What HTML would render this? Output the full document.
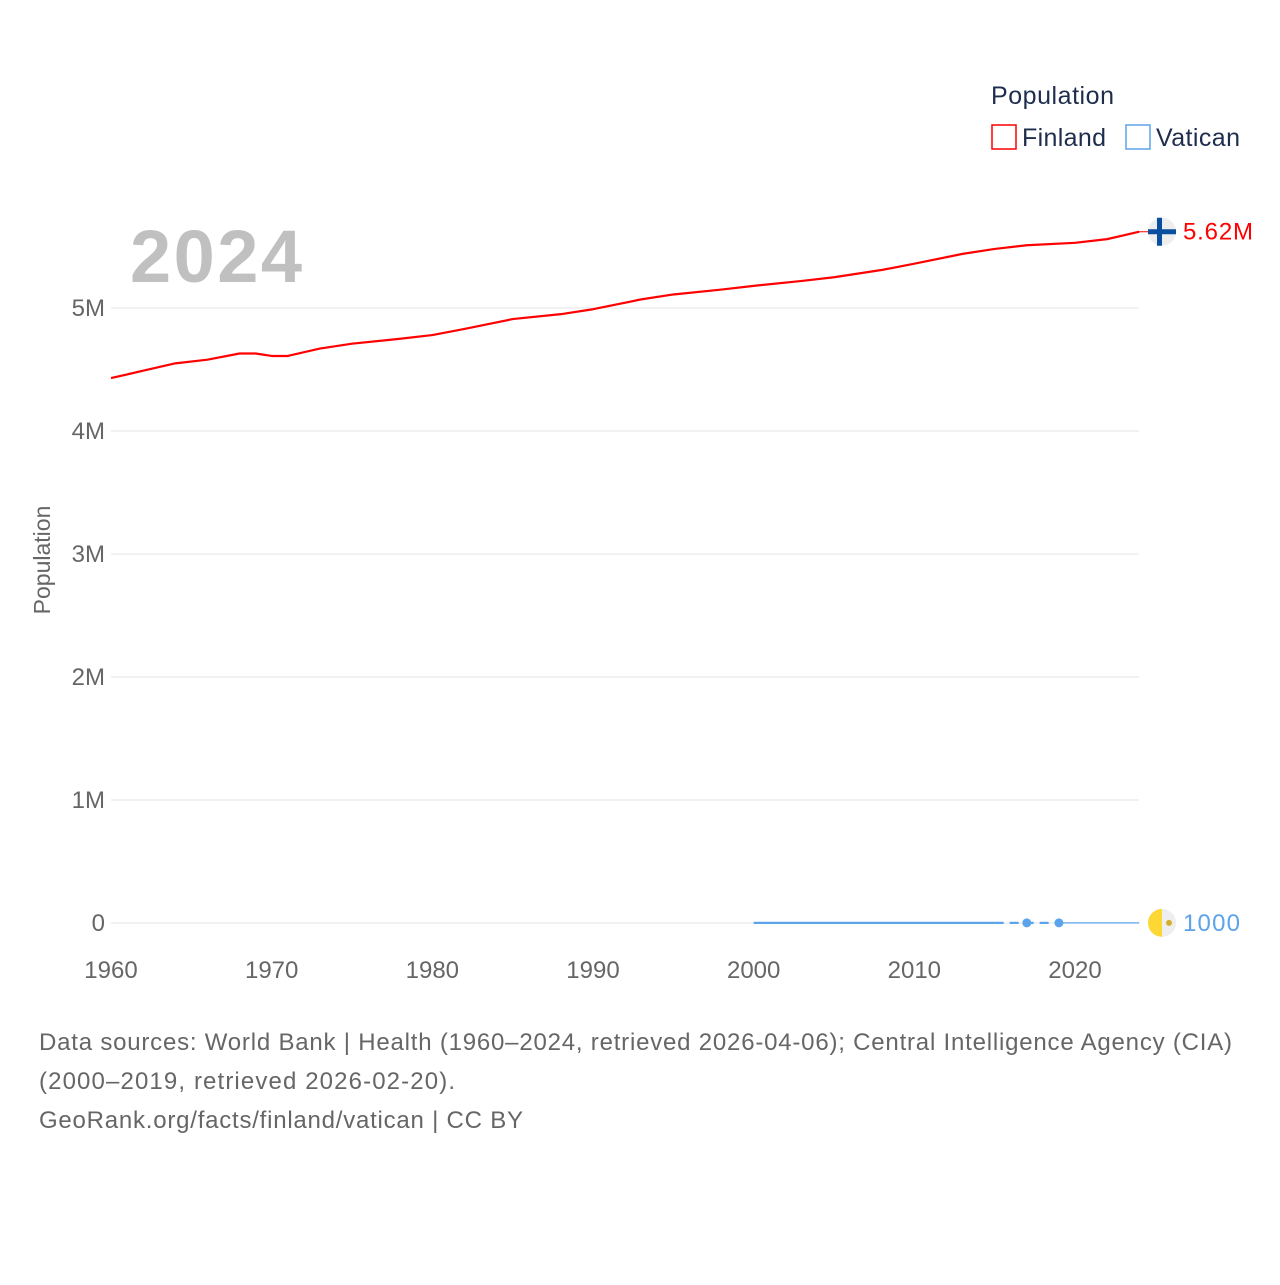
<!DOCTYPE html>
<html><head><meta charset="utf-8"><style>
body{margin:0;background:#fff;font-family:"Liberation Sans",sans-serif}
svg text{font-family:"Liberation Sans",sans-serif}
</style></head><body>
<svg id="chart" width="1280" height="1280" xmlns="http://www.w3.org/2000/svg">
<text x="991" y="104" font-size="25" fill="#1f2d4d" textLength="123">Population</text>
<rect x="992" y="125" width="24" height="24" fill="none" stroke="#ff0000" stroke-width="1.5"/>
<text x="1022" y="146" font-size="25" fill="#1f2d4d" textLength="84">Finland</text>
<rect x="1126" y="125" width="24" height="24" fill="none" stroke="#5ba3ea" stroke-width="1.5"/>
<text x="1156" y="146" font-size="25" fill="#1f2d4d" textLength="84">Vatican</text>
<text x="130" y="282" font-size="74" font-weight="bold" fill="#c0c0c0" textLength="172">2024</text>
<text transform="translate(50,560) rotate(-90)" text-anchor="middle" font-size="23" fill="#666">Population</text>
<g id="grid"></g><g id="series"></g>
<text font-size="24" fill="#666"><tspan x="39" y="1050" textLength="1193">Data sources: World Bank | Health (1960–2024, retrieved 2026-04-06); Central Intelligence Agency (CIA)</tspan><tspan x="39" y="1089" textLength="416">(2000–2019, retrieved 2026-02-20).</tspan><tspan x="39" y="1128" textLength="484">GeoRank.org/facts/finland/vatican | CC BY</tspan></text>
</svg>
<script>
const yTicks=[0,1,2,3,4,5];
const yTickLabels=["0","1M","2M","3M","4M","5M"];
const xTicks=[1960,1970,1980,1990,2000,2010,2020];
const finYears=[1960,1962,1964,1966,1968,1969,1970,1971,1973,1975,1978,1980,1982,1985,1988,1990,1993,1995,1998,2000,2003,2005,2008,2010,2013,2015,2017,2020,2022,2023,2024];
const finVals=[4.43,4.49,4.55,4.58,4.63,4.63,4.61,4.61,4.67,4.71,4.75,4.78,4.83,4.91,4.95,4.99,5.07,5.11,5.15,5.18,5.22,5.25,5.31,5.36,5.44,5.48,5.51,5.53,5.56,5.59,5.62];
const vatYears=[2000,2015,2017,2019,2025];
const vatVals=[1000,1000,1000,1000,1000];
const X=y=>111+(y-1960)*(1075-111)/60;
const Y=m=>923-m*123;
const NS="http://www.w3.org/2000/svg";
function mk(t,a,p){const e=document.createElementNS(NS,t);for(const k in a)e.setAttribute(k,a[k]);p.appendChild(e);return e;}
const g=document.getElementById('grid'),s=document.getElementById('series');
yTicks.forEach((v,i)=>{
 const l=mk('line',{x1:111,x2:1139,y1:Y(v),y2:Y(v),stroke:'#e6e6e6'},g);
 
 
 const t=mk('text',{x:105,y:Y(v)+8,'text-anchor':'end','font-size':24,fill:'#666'},g);t.textContent=yTickLabels[i];
 
 
});
xTicks.forEach(v=>{
 const t=mk('text',{x:X(v),y:978,'text-anchor':'middle','font-size':24,fill:'#666'},g);t.textContent=v;
 
 
});
const fp=mk('polyline',{points:finYears.map((y,i)=>X(y)+','+Y(finVals[i])).join(' '),fill:'none',stroke:'#ff0000','stroke-width':2.2,'stroke-linejoin':'round'},s);


const last=finVals[finVals.length-1];
mk('line',{x1:X(2024),x2:X(2024.7),y1:Y(last),y2:Y(last),stroke:'#ff0000','stroke-width':1},s);
const vY=v=>Y(v/1e6);
const v1=mk('line',{x1:X(vatYears[0]),x2:X(vatYears[1]),y1:vY(vatVals[0]),y2:vY(vatVals[1]),stroke:'#5ba3ea','stroke-width':2.2},s);


const v2=mk('line',{x1:X(vatYears[1]),x2:X(vatYears[3]),y1:vY(vatVals[1]),y2:vY(vatVals[3]),stroke:'#5ba3ea','stroke-width':2.2,'stroke-dasharray':'9,6'},s);


const v3=mk('line',{x1:X(vatYears[3]),x2:X(vatYears[4])-16,y1:vY(vatVals[3]),y2:vY(vatVals[4]),stroke:'#5ba3ea','stroke-width':1.2},s);


[2,3].forEach(i=>{const c=mk('circle',{cx:X(vatYears[i]),cy:vY(vatVals[i]),r:4.5,fill:'#5ba3ea'},s);
 
 });
const fx=1162,fy=Y(last);
const ff=mk('g',{},s);
mk('circle',{cx:fx,cy:fy,r:14,fill:'#eeeeee'},ff);
mk('rect',{x:fx-14,y:fy-2.5,width:28,height:5,fill:'#0a4ea0'},ff);
mk('rect',{x:fx-5,y:fy-14,width:5,height:28,fill:'#0a4ea0'},ff);
const ft=mk('text',{x:1183,y:fy+8,'font-size':24,fill:'#ff0000',textLength:70},s);ft.textContent='5.62M';

const vy=vY(vatVals[4]);
const vf=mk('g',{},s);
mk('circle',{cx:fx,cy:vy,r:14,fill:'#eeeeee'},vf);
mk('path',{d:`M${fx},${vy-14} A14,14 0 0 0 ${fx},${vy+14} Z`,fill:'#fdd835'},vf);
mk('circle',{cx:fx+7,cy:vy,r:3,fill:'#d4b02a'},vf);
const vt=mk('text',{x:1183,y:vy+8,'font-size':24,fill:'#5ba3ea',textLength:57},s);vt.textContent='1000';

</script>
</body></html>
